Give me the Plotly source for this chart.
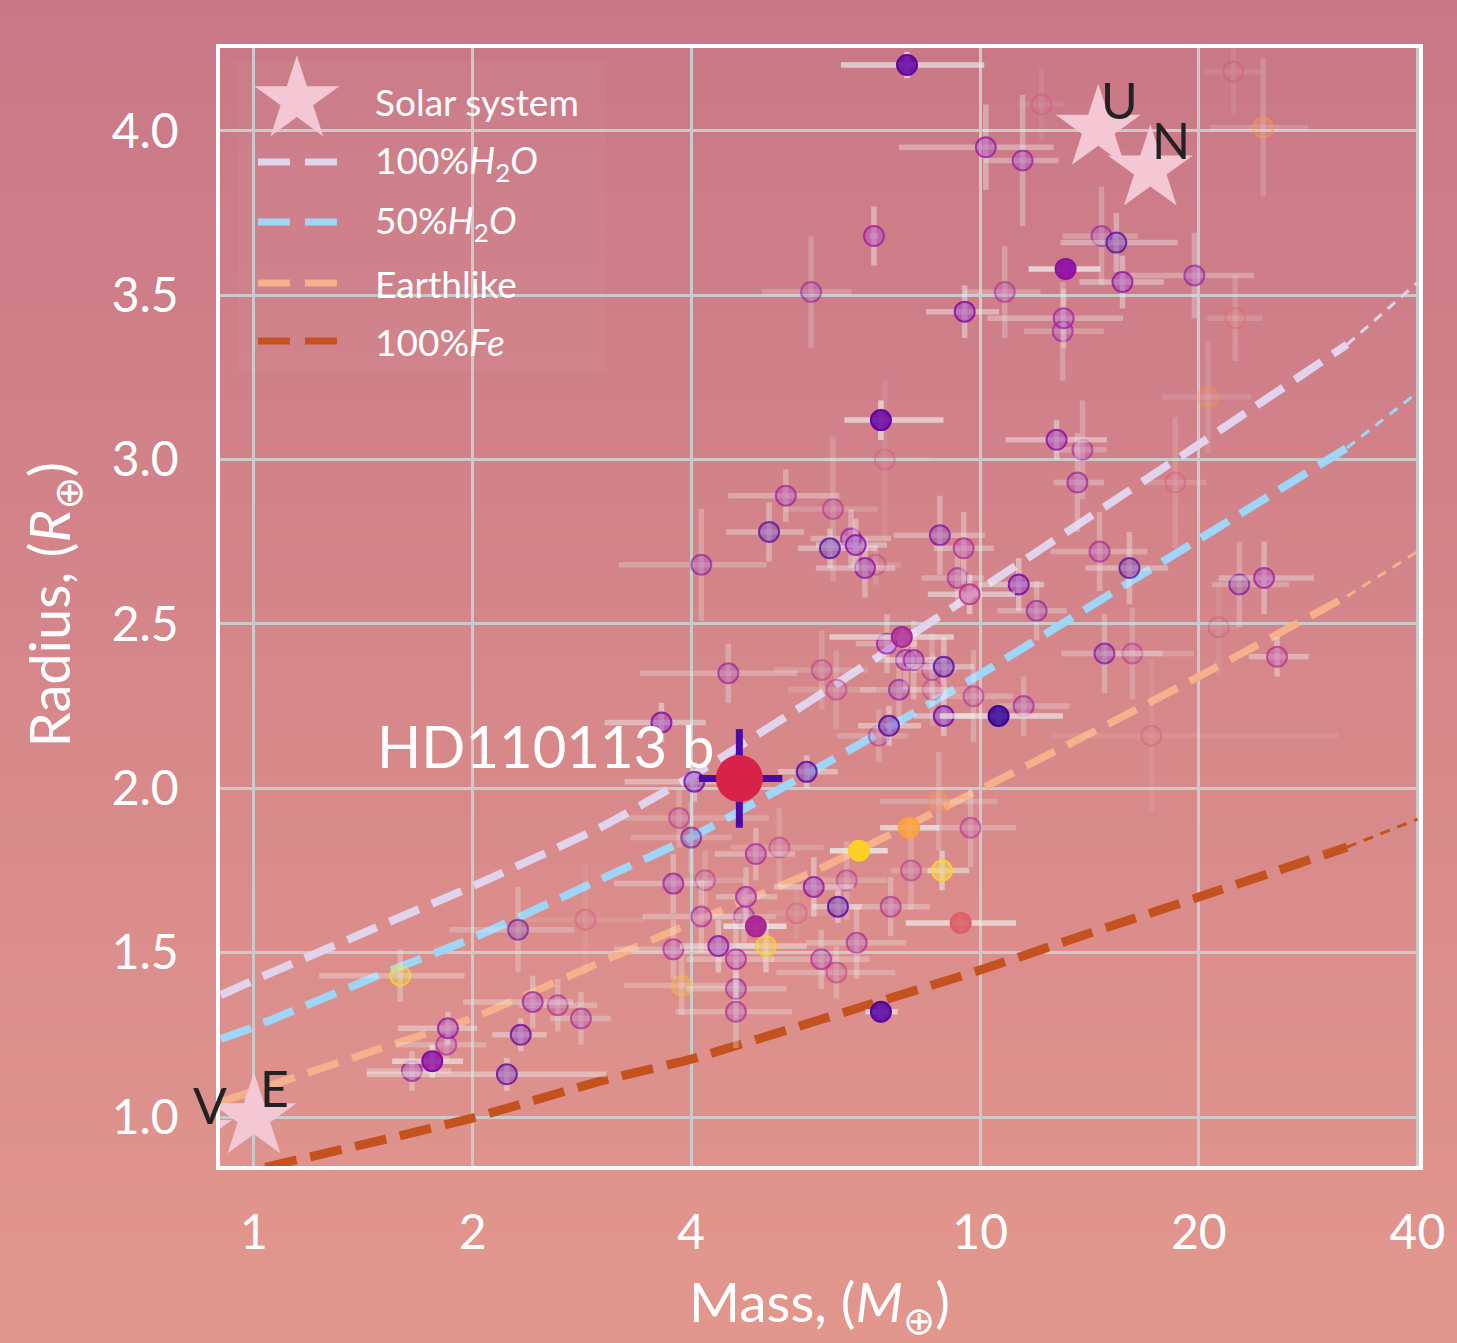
import numpy as np
import plotly.graph_objects as go
from plotly.colors import sample_colorscale

# ---------------- data ----------------
# known planets: mass [M_earth], radius [R_earth], errors, colour value (plasma 0-1), opacity
mass = [7.93, 10.18, 11.44, 12.15, 22.31, 24.53, 7.14, 13.11, 14.69, 15.40,
        15.70, 19.72, 10.81, 9.52, 13.03, 12.99, 5.85, 22.45, 20.6, 7.30,
        7.39, 12.74, 13.83, 13.61, 18.57, 5.40, 5.12, 4.13, 6.27, 6.21,
        6.64, 6.74, 6.94, 7.18, 8.80, 9.49, 9.31, 9.67, 11.30, 11.96,
        14.60, 16.05, 14.83, 16.20, 22.74, 24.60, 25.63, 21.3, 17.21, 10.60,
        11.48, 7.80, 7.44, 7.90, 8.10, 8.91, 8.58, 4.50, 6.05, 6.34,
        7.73, 8.60, 9.79, 8.91, 7.49, 7.25, 3.64, 4.04, 5.77, 4.00,
        3.85, 4.91, 5.29, 6.81, 7.98, 8.77, 9.70, 8.86, 8.03, 6.55,
        5.90, 6.37, 7.53, 5.59, 4.91, 4.76, 4.73, 4.13, 3.78, 4.18,
        5.07, 4.36, 4.61, 3.88, 4.61, 4.61, 3.78, 6.04, 6.76, 6.34,
        9.40, 7.30, 1.59, 2.31, 2.86, 2.42, 2.62, 2.82, 2.33, 2.23,
        1.85, 1.84, 1.76, 1.65]
radius = [4.20, 3.95, 3.91, 4.08, 4.18, 4.01, 3.68, 3.58, 3.68, 3.66,
          3.54, 3.56, 3.51, 3.45, 3.43, 3.39, 3.51, 3.43, 3.19, 3.12,
          3.00, 3.06, 3.03, 2.93, 2.93, 2.89, 2.78, 2.68, 2.85, 2.73,
          2.76, 2.74, 2.67, 2.68, 2.77, 2.73, 2.64, 2.59, 2.62, 2.54,
          2.72, 2.67, 2.41, 2.41, 2.62, 2.64, 2.40, 2.49, 2.16, 2.22,
          2.25, 2.46, 2.44, 2.39, 2.39, 2.37, 2.36, 2.35, 2.36, 2.30,
          2.30, 2.30, 2.28, 2.22, 2.19, 2.16, 2.20, 2.02, 2.05, 1.85,
          1.91, 1.80, 1.82, 1.81, 1.88, 1.96, 1.88, 1.75, 1.75, 1.72,
          1.70, 1.64, 1.64, 1.62, 1.58, 1.67, 1.61, 1.61, 1.71, 1.72,
          1.52, 1.52, 1.48, 1.40, 1.39, 1.32, 1.51, 1.48, 1.53, 1.44,
          1.59, 1.32, 1.43, 1.57, 1.60, 1.35, 1.34, 1.30, 1.25, 1.13,
          1.27, 1.22, 1.17, 1.14]
mass_err_minus = [1.5, 2.45, 1.33, 0.85, 2.0, 3.8, 0.1, 1.45, 1.7, 2.5,
                  2.0, 3.7, 1.3, 1.1, 2.8, 1.5, 0.85, 1.9, 2.8, 0.8,
                  1.3, 1.9, 1.2, 1.0, 1.7, 0.9, 0.65, 0.95, 0.9, 0.6,
                  0.8, 0.8, 1.0, 0.55, 1.2, 0.86, 1.0, 1.2, 1.35, 1.4,
                  2.1, 2.1, 1.9, 1.4, 1.9, 3.3, 2.2, 1.4, 4.7, 1.8,
                  0.9, 1.6, 0.7, 0.7, 0.7, 1.0, 0.55, 1.1, 0.85, 0.9,
                  0.9, 0.8, 1.2, 0.8, 0.7, 0.9, 0.6, 0.8, 0.5, 0.7,
                  0.65, 0.6, 0.75, 0.6, 0.7, 1.5, 1.7, 0.4, 0.5, 0.8,
                  0.7, 0.5, 0.9, 0.5, 0.48, 0.43, 0.43, 0.7, 0.65, 0.5,
                  0.45, 0.5, 0.67, 0.65, 0.67, 0.8, 0.65, 0.9, 1.0, 1.1,
                  1.5, 0.35, 0.36, 0.45, 0.5, 0.48, 0.3, 0.26, 0.2, 0.8,
                  0.27, 0.27, 0.21, 0.22]
mass_err_plus = [2.2, 2.44, 1.38, 0.87, 2.2, 3.75, 0.1, 1.53, 1.8, 3.3,
                 2.2, 4.1, 1.3, 1.1, 2.7, 1.8, 0.8, 2.0, 3.0, 1.6,
                 1.2, 2.2, 1.1, 1.2, 1.9, 1.0, 0.6, 0.95, 0.95, 1.0,
                 0.9, 0.7, 0.7, 0.6, 1.35, 0.95, 0.8, 1.5, 0.95, 1.2,
                 2.4, 2.1, 3.0, 3.5, 3.9, 4.2, 2.7, 1.4, 13.9, 2.4,
                 1.8, 1.4, 0.75, 0.8, 0.9, 0.9, 0.7, 1.1, 0.95, 0.85,
                 1.3, 1.0, 1.3, 0.9, 0.8, 0.7, 0.55, 0.55, 0.6, 0.55,
                 1.27, 0.65, 0.8, 0.65, 0.8, 1.8, 1.5, 0.8, 0.8, 0.9,
                 0.8, 0.5, 1.0, 0.55, 0.5, 0.5, 0.5, 0.56, 0.5, 0.56,
                 0.7, 0.6, 0.6, 0.8, 0.8, 0.9, 0.8, 1.0, 1.15, 1.3,
                 1.8, 0.4, 0.36, 0.45, 0.6, 0.33, 0.35, 0.28, 0.2, 0.83,
                 0.18, 0.25, 0.18, 0.22]
radius_err = [0.04, 0.13, 0.20, 0.11, 0.13, 0.21, 0.09, 0.03, 0.15, 0.09,
              0.08, 0.13, 0.14, 0.08, 0.09, 0.15, 0.17, 0.13, 0.17, 0.06,
              0.24, 0.06, 0.15, 0.15, 0.20, 0.08, 0.09, 0.17, 0.22, 0.06,
              0.09, 0.08, 0.09, 0.06, 0.12, 0.11, 0.09, 0.06, 0.08, 0.09,
              0.12, 0.11, 0.12, 0.14, 0.13, 0.11, 0.06, 0.15, 0.23, 0.03,
              0.09, 0.03, 0.09, 0.09, 0.12, 0.09, 0.11, 0.09, 0.12, 0.12,
              0.11, 0.11, 0.14, 0.06, 0.06, 0.08, 0.06, 0.06, 0.05, 0.11,
              0.09, 0.08, 0.12, 0.01, 0.03, 0.15, 0.12, 0.06, 0.12, 0.12,
              0.09, 0.05, 0.09, 0.08, 0.03, 0.09, 0.08, 0.11, 0.09, 0.09,
              0.08, 0.08, 0.12, 0.09, 0.09, 0.11, 0.09, 0.09, 0.11, 0.08,
              0.03, 0.02, 0.08, 0.13, 0.17, 0.08, 0.08, 0.08, 0.05, 0.05,
              0.05, 0.05, 0.05, 0.06]
color_value = [0.18, 0.30, 0.30, 0.50, 0.50, 0.78, 0.35, 0.30, 0.30, 0.12,
               0.28, 0.30, 0.38, 0.25, 0.32, 0.30, 0.30, 0.60, 0.75, 0.20,
               0.50, 0.28, 0.35, 0.30, 0.55, 0.32, 0.12, 0.25, 0.35, 0.12,
               0.30, 0.25, 0.25, 0.45, 0.20, 0.38, 0.35, 0.45, 0.22, 0.30,
               0.35, 0.12, 0.20, 0.40, 0.15, 0.32, 0.42, 0.50, 0.50, 0.08,
               0.30, 0.38, 0.28, 0.30, 0.30, 0.12, 0.40, 0.30, 0.40, 0.40,
               0.25, 0.45, 0.40, 0.20, 0.12, 0.40, 0.25, 0.20, 0.15, 0.12,
               0.40, 0.35, 0.40, 0.90, 0.78, 0.75, 0.40, 0.92, 0.40, 0.40,
               0.28, 0.12, 0.38, 0.50, 0.38, 0.32, 0.35, 0.35, 0.30, 0.40,
               0.90, 0.28, 0.35, 0.85, 0.35, 0.35, 0.35, 0.35, 0.35, 0.45,
               0.58, 0.15, 0.95, 0.15, 0.50, 0.30, 0.38, 0.35, 0.20, 0.15,
               0.30, 0.35, 0.28, 0.30]
opacity = [0.85, 0.5, 0.45, 0.12, 0.12, 0.25, 0.6, 0.95, 0.35, 0.5,
           0.55, 0.4, 0.35, 0.6, 0.45, 0.35, 0.3, 0.25, 0.18, 0.85,
           0.12, 0.6, 0.35, 0.4, 0.2, 0.45, 0.5, 0.35, 0.25, 0.55,
           0.45, 0.55, 0.5, 0.2, 0.45, 0.5, 0.4, 0.7, 0.6, 0.4,
           0.4, 0.5, 0.4, 0.3, 0.35, 0.5, 0.55, 0.1, 0.1, 0.85,
           0.35, 0.8, 0.45, 0.4, 0.45, 0.55, 0.3, 0.4, 0.25, 0.25,
           0.35, 0.25, 0.35, 0.6, 0.6, 0.3, 0.6, 0.55, 0.6, 0.3,
           0.3, 0.45, 0.25, 1.0, 0.85, 0.3, 0.35, 0.7, 0.3, 0.3,
           0.55, 0.6, 0.4, 0.12, 0.95, 0.45, 0.35, 0.4, 0.45, 0.25,
           0.6, 0.6, 0.45, 0.35, 0.4, 0.4, 0.4, 0.4, 0.4, 0.35,
           0.9, 0.85, 0.45, 0.35, 0.12, 0.45, 0.4, 0.4, 0.55, 0.55,
           0.55, 0.35, 0.8, 0.45]

# highlighted planet
target_name = "HD110113 b"
target_mass = 4.66
target_mass_err_minus = 0.56
target_mass_err_plus = 0.68
target_radius = 2.03
target_radius_err = 0.15

# solar system
ss_names = ["V", "E", "U", "N"]
ss_mass = [0.815, 1.0, 14.54, 17.15]
ss_radius = [0.949, 1.0, 4.007, 3.883]

# composition models (mass grid, radius per composition)
curve_mass = [0.9, 1.0, 1.5, 2.0, 3.0, 4.0, 6.0, 10.0, 15.0, 20.0, 32.0, 40.0]
r_h2o_100 = [1.371, 1.416, 1.584, 1.702, 1.881, 2.036, 2.283, 2.605, 2.863, 3.046, 3.350, 3.538]
r_h2o_50 = [1.237, 1.274, 1.435, 1.544, 1.723, 1.851, 2.064, 2.347, 2.587, 2.757, 3.036, 3.204]
r_earthlike = [1.046, 1.079, 1.210, 1.301, 1.471, 1.590, 1.754, 1.997, 2.195, 2.340, 2.584, 2.720]
r_fe_100 = [0.815, 0.839, 0.930, 0.997, 1.109, 1.176, 1.295, 1.447, 1.578, 1.669, 1.821, 1.906]
curve_names = ["100%<i>H</i><sub>2</sub><i>O</i>", "50%<i>H</i><sub>2</sub><i>O</i>",
               "Earthlike", "100%<i>Fe</i>"]
curve_colors = ["#e2d3ec", "#9fd6f7", "#f6b08c", "#c4521f"]
curve_widths = [8, 8, 7.5, 9]
thick_limit = 32.0

x_ticks = [1, 2, 4, 10, 20, 40]
y_ticks = [1.0, 1.5, 2.0, 2.5, 3.0, 3.5, 4.0]
x_range = [0.898, 40.2]
y_range = [0.851, 4.252]

# ---------------- layout constants ----------------
W, H = 1457, 1343
ML, MR, MT, MB = 220, 36, 48, 177
PW, PH = W - ML - MR, H - MT - MB
FONT = "Lato, 'Open Sans', 'DejaVu Sans', sans-serif"
STAR_COLOR = "#f3c8d4"


def pxx(px):
    return (px - ML) / PW


def pxy(py):
    return (H - MB - py) / PH


def data_to_paper(m, r):
    lx0, lx1 = np.log10(x_range[0]), np.log10(x_range[1])
    return (np.log10(m) - lx0) / (lx1 - lx0), (r - y_range[0]) / (y_range[1] - y_range[0])


def rgb_of(v):
    s = sample_colorscale("Plasma", [v])[0]
    vals = s[s.index("(") + 1:s.index(")")].split(",")
    return [float(x) for x in vals[:3]]


fig = go.Figure()

# background gradient (vertical)
top = np.array([201, 119, 135])
bot = np.array([226, 151, 141])
shapes = []
nb = 90
for i in range(nb):
    c = top + (bot - top) * ((i + 0.5) / nb)
    py0 = H * i / nb
    py1 = H * (i + 1) / nb + 1
    shapes.append(dict(type="rect", xref="paper", yref="paper", layer="below",
                       x0=pxx(-5), x1=pxx(W + 5), y0=pxy(py1), y1=pxy(py0 - 0.5),
                       fillcolor="rgb(%d,%d,%d)" % tuple(np.round(c)), line_width=0))
# faint legend box
shapes.append(dict(type="rect", xref="paper", yref="paper", layer="below",
                   x0=pxx(238), x1=pxx(606), y0=pxy(372), y1=pxy(62),
                   fillcolor="rgba(255,255,255,0.03)", line_width=0))

# composition curves
for name, col, w, rr in zip(curve_names, curve_colors, curve_widths,
                            [r_h2o_100, r_h2o_50, r_earthlike, r_fe_100]):
    mt = [m for m in curve_mass if m <= thick_limit]
    rt = [r for m, r in zip(curve_mass, rr) if m <= thick_limit]
    mn = [m for m in curve_mass if m >= thick_limit]
    rn = [r for m, r in zip(curve_mass, rr) if m >= thick_limit]
    fig.add_trace(go.Scatter(x=mt, y=rt, mode="lines", showlegend=False,
                             line=dict(color=col, width=w, dash="32px,14px",
                                       shape="spline", smoothing=0.5),
                             hoverinfo="skip"))
    fig.add_trace(go.Scatter(x=mn, y=rn, mode="lines", showlegend=False,
                             line=dict(color=col, width=3, dash="10px,8px"),
                             hoverinfo="skip"))

# planets grouped by opacity (error bars share alpha with the point)
levels = sorted(set(opacity))
for a in levels:
    idx = [i for i, o in enumerate(opacity) if o == a]
    fills, edges = [], []
    for i in idx:
        r, g, b = rgb_of(color_value[i])
        if a < 0.75:
            fr, fg, fb = r + (235 - r) * 0.3, g + (200 - g) * 0.3, b + (255 - b) * 0.3
            fa = a * 0.85
        else:
            fr, fg, fb, fa = r, g, b, a
        fills.append("rgba(%d,%d,%d,%.3f)" % (fr, fg, fb, fa))
        edges.append("rgba(%d,%d,%d,%.3f)" % (r, g, b, min(1.0, a + 0.2)))
    fig.add_trace(go.Scatter(
        x=[mass[i] for i in idx], y=[radius[i] for i in idx], mode="markers",
        showlegend=False,
        marker=dict(size=20, color=fills, line=dict(color=edges, width=2)),
        error_x=dict(type="data", symmetric=False,
                     array=[mass_err_plus[i] for i in idx],
                     arrayminus=[mass_err_minus[i] for i in idx],
                     color="rgba(236,236,236,%.3f)" % (a * 0.8), thickness=5.5, width=0),
        error_y=dict(type="data", array=[radius_err[i] for i in idx],
                     color="rgba(236,236,236,%.3f)" % (a * 0.8), thickness=5.5, width=0),
    ))

# solar system stars
fig.add_trace(go.Scatter(x=ss_mass, y=ss_radius, mode="markers", showlegend=False,
                         marker=dict(symbol="star", size=64, color=STAR_COLOR,
                                     line=dict(width=0))))

# highlighted planet
fig.add_trace(go.Scatter(
    x=[target_mass], y=[target_radius], mode="markers", showlegend=False,
    marker=dict(size=47, color="#d8224a", line=dict(width=0)),
    error_x=dict(type="data", symmetric=False, array=[target_mass_err_plus],
                 arrayminus=[target_mass_err_minus], color="#4a0aa6", thickness=7, width=0),
    error_y=dict(type="data", array=[target_radius_err], color="#4a0aa6", thickness=7, width=0),
))

annotations = []
annotations.append(dict(x=np.log10(target_mass), y=target_radius, xref="x", yref="y",
                        text=target_name, showarrow=False, xanchor="right", yanchor="middle",
                        xshift=-22, yshift=33, font=dict(family=FONT, size=58, color="white")))
for n, m, r in zip(ss_names, ss_mass, ss_radius):
    px_, py_ = data_to_paper(m, r)
    annotations.append(dict(x=px_, y=py_, xref="paper", yref="paper", text=n, showarrow=False,
                            xanchor="center", yanchor="middle", xshift=21, yshift=29,
                            font=dict(family=FONT, size=50, color="#222222")))

# custom legend (overlay axes in paper-like units)
leg_rows_py = [102, 162, 222, 283, 341]
leg_labels = ["Solar system"] + curve_names
fig.add_trace(go.Scatter(x=[pxx(297)], y=[pxy(100)], xaxis="x2", yaxis="y2", mode="markers",
                         showlegend=False, hoverinfo="skip",
                         marker=dict(symbol="star", size=64, color=STAR_COLOR, line=dict(width=0))))
for py, col, w in zip(leg_rows_py[1:], curve_colors, curve_widths):
    fig.add_trace(go.Scatter(x=[pxx(258), pxx(338)], y=[pxy(py), pxy(py)], xaxis="x2", yaxis="y2",
                             mode="lines", showlegend=False, hoverinfo="skip",
                             line=dict(color=col, width=7, dash="32px,15px")))
for py, lab in zip(leg_rows_py, leg_labels):
    annotations.append(dict(x=pxx(373), y=pxy(py), xref="paper", yref="paper", text=lab,
                            showarrow=False, xanchor="left", yanchor="middle",
                            font=dict(family=FONT, size=37, color="white")))

# axis titles
annotations.append(dict(x=pxx(52), y=pxy(605), xref="paper", yref="paper",
                        text="Radius, (<i>R</i><sub>⊕</sub>)", textangle=-90, showarrow=False,
                        xanchor="center", yanchor="middle",
                        font=dict(family=FONT, size=56, color="white")))
annotations.append(dict(x=pxx(820), y=pxy(1305), xref="paper", yref="paper",
                        text="Mass, (<i>M</i><sub>⊕</sub>)", showarrow=False,
                        xanchor="center", yanchor="middle",
                        font=dict(family=FONT, size=55, color="white")))

grid_col = "#cacaca"
fig.update_layout(
    width=W, height=H,
    margin=dict(l=ML, r=MR, t=MT, b=MB),
    paper_bgcolor="rgb(213,135,138)",
    plot_bgcolor="rgba(0,0,0,0)",
    showlegend=False,
    shapes=shapes,
    annotations=annotations,
    xaxis=dict(type="log", range=[np.log10(x_range[0]), np.log10(x_range[1])],
               tickvals=x_ticks, ticktext=[str(v) for v in x_ticks],
               showgrid=True, gridcolor=grid_col, gridwidth=3, zeroline=False,
               showline=True, linecolor="white", linewidth=3.5, mirror=True,
               ticks="", ticklabelstandoff=22,
               tickfont=dict(family=FONT, size=48, color="white")),
    yaxis=dict(range=y_range, tickvals=y_ticks, ticktext=["%.1f" % v for v in y_ticks],
               showgrid=True, gridcolor=grid_col, gridwidth=3, zeroline=False,
               showline=True, linecolor="white", linewidth=3.5, mirror=True,
               ticks="", ticklabelstandoff=28,
               tickfont=dict(family=FONT, size=48, color="white")),
    xaxis2=dict(overlaying="x", anchor="y2", range=[0, 1], visible=False, fixedrange=True),
    yaxis2=dict(overlaying="y", anchor="x2", range=[0, 1], visible=False, fixedrange=True),
)

fig.write_html("out.html", config={"displayModeBar": False},
               post_script="document.body.style.margin='0';document.body.style.overflow='hidden';")
